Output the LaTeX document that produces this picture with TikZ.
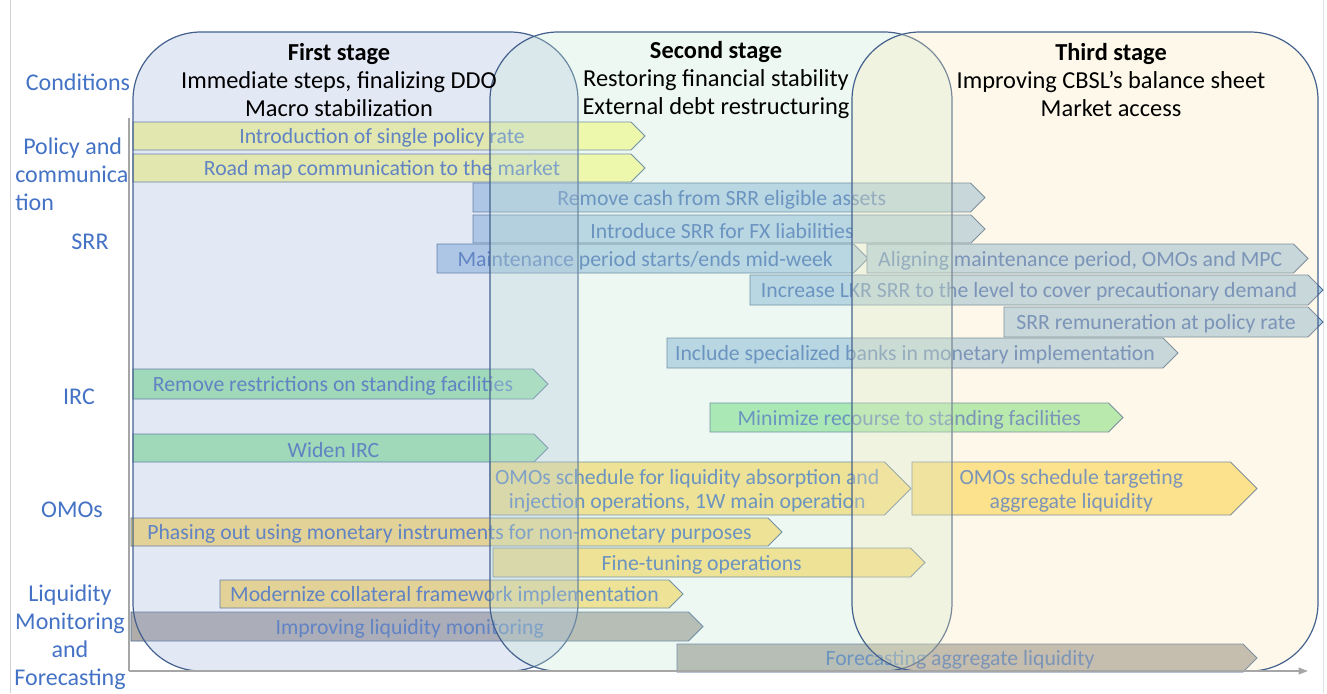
\documentclass[tikz,border=0pt]{standalone}
\usepackage{fontspec}
\setmainfont{Carlito}
\usetikzlibrary{arrows.meta}
\definecolor{lbl}{HTML}{4472C4}
\definecolor{bartx}{HTML}{4570B8}
\definecolor{edge}{HTML}{4A6A92}
\definecolor{stedge}{HTML}{44618E}
\definecolor{axc}{HTML}{A6A6A6}
\definecolor{sone}{HTML}{A2B2DE}
\definecolor{stwo}{HTML}{C6E8D4}
\definecolor{sthree}{HTML}{F8E8B9}
\definecolor{polc}{HTML}{FFFF9C}
\definecolor{srrc}{HTML}{B3D0E9}
\definecolor{ircc}{HTML}{9EEAA9}
\definecolor{omoc}{HTML}{FFE07A}
\definecolor{liqc}{HTML}{B0ACAA}
\tikzset{
  barline/.style={draw=edge,line width=0.7pt},
  bartxt/.style={text=bartx,align=center,inner sep=0pt,yshift=-1.5pt,font=\fontsize{16.3}{18}\selectfont},
  rowlbl/.style={text=lbl,align=center,inner sep=0pt,font=\fontsize{18}{21}\selectfont},
  stg/.style={draw=stedge,line width=0.9pt,rounded corners=51pt,fill opacity=0.3},
  ttl/.style={align=center,inner sep=0pt,font=\fontsize{18.3}{20.8}\selectfont},
  ax/.style={draw=axc,line width=1.8pt},
}
% one bar: name, colour, left x, tip x, top y, bottom y, text
\newcommand{\taskbar}[7]{%
  \draw[barline,fill=#2] (#3,#5) -- ({#4-(#6-#5)/2},#5) -- (#4,{(#5+#6)/2})
    -- ({#4-(#6-#5)/2},#6) -- (#3,#6) -- cycle;
  \node[bartxt] (#1) at ({(#3+#4-(#6-#5)/2)/2},{(#5+#6)/2}) {#7};}
\begin{document}
\begin{tikzpicture}[x=0.75pt,y=-0.75pt]
  \useasboundingbox (0,0) rectangle (1327,693);
  \draw[black!18,line width=0.6pt] (10,0) -- (10,693);
  \draw[black!12,line width=0.6pt] (1323,0) -- (1323,693);

  % row labels
  \node[rowlbl] (lcond) at (78,82) {Conditions};
  \node[rowlbl,align=left,anchor=west] (lpol) at (15,174) {\hspace*{6pt}Policy and\\communica\\tion};
  \node[rowlbl] (lsrr) at (90,242) {SRR};
  \node[rowlbl] (lirc) at (79,397) {IRC};
  \node[rowlbl] (lomo) at (72,510) {OMOs};
  \node[rowlbl] (lliq) at (70,637) {Liquidity\\Monitoring\\and\\Forecasting};

  % bars
  \taskbar{pol1}{polc}{133}{645}{122}{150}{Introduction of single policy rate}
  \taskbar{pol2}{polc}{133}{645}{154}{182}{Road map communication to the market}
  \taskbar{srr1}{srrc}{473}{985}{183}{212}{Remove cash from SRR eligible assets}
  \taskbar{srr2}{srrc}{473}{985}{215}{243}{Introduce SRR for FX liabilities}
  \taskbar{srr3}{srrc}{437}{868}{244}{273}{Maintenance period starts/ends mid-week}
  \taskbar{srr4}{srrc}{867}{1308}{244}{273}{Aligning maintenance period, OMOs and MPC}
  \taskbar{srr5}{srrc}{750}{1323}{275}{305}{Increase LKR SRR to the level to cover precautionary demand}
  \taskbar{srr6}{srrc}{1004}{1323}{307}{337}{SRR remuneration at policy rate}
  \taskbar{srr7}{srrc}{667}{1178}{338}{368}{Include specialized banks in monetary implementation}
  \taskbar{irc1}{ircc}{133}{548}{369}{399}{Remove restrictions on standing facilities}
  \taskbar{irc2}{ircc}{710}{1123}{403}{432}{Minimize recourse to standing facilities}
  \taskbar{irc3}{ircc}{133}{548}{434}{462}{Widen IRC}
  \taskbar{omo1}{omoc}{490}{911}{462}{515}{OMOs schedule for liquidity absorption and\\injection operations, 1W main operation}
  \taskbar{omo2}{omoc}{912}{1257}{462}{515}{OMOs schedule targeting\\aggregate liquidity}
  \taskbar{omo3}{omoc}{131}{782}{518}{546}{Phasing out using monetary instruments for non-monetary purposes}
  \taskbar{omo4}{omoc}{493}{925}{548}{577}{Fine-tuning operations}
  \taskbar{omo5}{omoc}{220}{683}{580}{608}{Modernize collateral framework implementation}
  \taskbar{liq1}{liqc}{131}{703}{612}{641}{Improving liquidity monitoring}
  \taskbar{liq2}{liqc}{677}{1257}{644}{672}{Forecasting aggregate liquidity}

  % stages
  \draw[stg,fill=sone] (133,32) rectangle (578,671);
  \draw[stg,fill=stwo] (490,32) rectangle (952,671);
  \draw[stg,fill=sthree] (852,32) rectangle (1318,671);
  \node[ttl] (st1) at (339,80) {\textbf{First stage}\\Immediate steps, finalizing DDO\\Macro stabilization};
  \node[ttl] (st2) at (716,80) {\textbf{Second stage}\\Restoring financial stability\\External debt restructuring};
  \node[ttl] (st3) at (1111,80) {\textbf{Third stage}\\Improving CBSL’s balance sheet\\Market access};

  % axes
  \coordinate (top) at (129,118);
  \coordinate (org) at (129,671);
  \coordinate (end) at (1308,671);
  \draw[ax] (top) -- (org);
  \draw[ax,line width=1.3pt,-{Triangle[length=7pt,width=5pt]}] (org) -- (end);
\end{tikzpicture}
\end{document}
